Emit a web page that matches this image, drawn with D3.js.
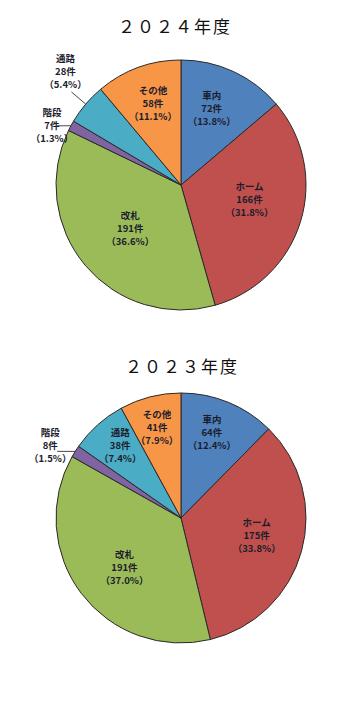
<!DOCTYPE html>
<html><head><meta charset="utf-8">
<script src="https://cdn.jsdelivr.net/npm/d3@7"></script>
<style>
html,body{margin:0;padding:0;background:#fff;}
svg{display:block;}
</style></head>
<body>
<script>
// ---- data ----
const categories = ["車内", "ホーム", "改札", "階段", "通路", "その他"];
const counts2024 = [72, 166, 191, 7, 28, 58];
const pct2024 = ["13.8", "31.8", "36.6", "1.3", "5.4", "11.1"];
const counts2023 = [64, 175, 191, 8, 38, 41];
const pct2023 = ["12.4", "33.8", "37.0", "1.5", "7.4", "7.9"];
const titles = ["２０２４年度", "２０２３年度"];
const colors = ["#4F81BD", "#C0504D", "#9BBB59", "#8064A2", "#4BACC6", "#F79646"];

// ---- layout (positions/styles) ----
const W = 344, H = 720;
const charts = [
  { title: titles[0], counts: counts2024, pct: pct2024, cx: 181, cy: 185, r: 125, tx: 175, ty: 25,
    labels: {
      "車内": {mode: "in", k: 0.66, da: -3},
      "ホーム": {mode: "in", k: 0.56, da: -5},
      "改札": {mode: "in", k: 0.53, da: 0},
      "階段": {mode: "step", len: 14, dx: -19, dy: -1},
      "通路": {mode: "diag", k: 1.15, dx: -6, dy: -21},
      "その他": {mode: "in", k: 0.69, da: 1}
    } },
  { title: titles[1], counts: counts2023, pct: pct2023, cx: 181, cy: 518, r: 125, tx: 182, ty: 365,
    labels: {
      "車内": {mode: "in", k: 0.73, da: -2.5},
      "ホーム": {mode: "in", k: 0.62, da: -3},
      "改札": {mode: "in", k: 0.6, da: -4},
      "階段": {mode: "step", len: 18, dx: -25, dy: -6},
      "通路": {mode: "in", k: 0.76, da: 2},
      "その他": {mode: "in", k: 0.75, da: -0.5}
    } }
];

const svg = d3.select("body").append("svg").attr("width", W).attr("height", H);
const color = d3.scaleOrdinal().domain(categories).range(colors);
const pie = d3.pie().sort(null).value(d => d.v).startAngle(0).endAngle(2 * Math.PI);
const font = "'Noto Sans CJK JP', 'Noto Sans', sans-serif";

function polar(cx, cy, rad, ang) { // ang radians clockwise from top
  return [cx + rad * Math.sin(ang), cy - rad * Math.cos(ang)];
}

charts.forEach(ch => {
  const data = categories.map((c, i) => ({c, v: ch.counts[i], p: ch.pct[i]}));
  const arcs = pie(data);
  const arc = d3.arc().innerRadius(0).outerRadius(ch.r);

  svg.append("text")
    .attr("x", ch.tx).attr("y", ch.ty)
    .attr("text-anchor", "middle").attr("dominant-baseline", "central")
    .attr("font-family", font).attr("font-size", 17).attr("letter-spacing", 2)
    .attr("fill", "#111")
    .text(ch.title);

  const g = svg.append("g").attr("transform", `translate(${ch.cx},${ch.cy})`);
  g.selectAll("path").data(arcs).join("path")
    .attr("d", arc)
    .attr("fill", d => color(d.data.c))
    .attr("stroke", "#2a2a2a").attr("stroke-width", 1);

  arcs.forEach(a => {
    const L = ch.labels[a.data.c];
    const mid = (a.startAngle + a.endAngle) / 2;
    let x, y;
    if (L.mode === "in") {
      const ang = mid + L.da * Math.PI / 180;
      [x, y] = polar(ch.cx, ch.cy, ch.r * L.k, ang);
    } else if (L.mode === "step") {
      const [ex, ey] = polar(ch.cx, ch.cy, ch.r, mid);
      svg.append("line").attr("x1", ex).attr("y1", ey).attr("x2", ex - L.len).attr("y2", ey)
        .attr("stroke", "#333").attr("stroke-width", 0.9);
      x = ex + L.dx; y = ey + L.dy;
    } else {
      const [ex, ey] = polar(ch.cx, ch.cy, ch.r, mid);
      const [sx, sy] = polar(ch.cx, ch.cy, ch.r * L.k, mid);
      svg.append("line").attr("x1", ex).attr("y1", ey).attr("x2", sx).attr("y2", sy)
        .attr("stroke", "#333").attr("stroke-width", 0.9);
      x = sx + L.dx; y = sy + L.dy;
    }
    const lines = [a.data.c, a.data.v + "件", "（" + a.data.p + "%）"];
    const t = svg.append("text")
      .attr("text-anchor", "middle")
      .attr("font-family", font).attr("font-size", 9.5).attr("font-weight", 700)
      .attr("fill", "#1c1c2c");
    lines.forEach((s, i) => {
      t.append("tspan").attr("x", x).attr("y", y + (i - 1) * 13)
        .attr("dominant-baseline", "central")
        .text(s);
    });
  });
});
</script>
</body></html>
